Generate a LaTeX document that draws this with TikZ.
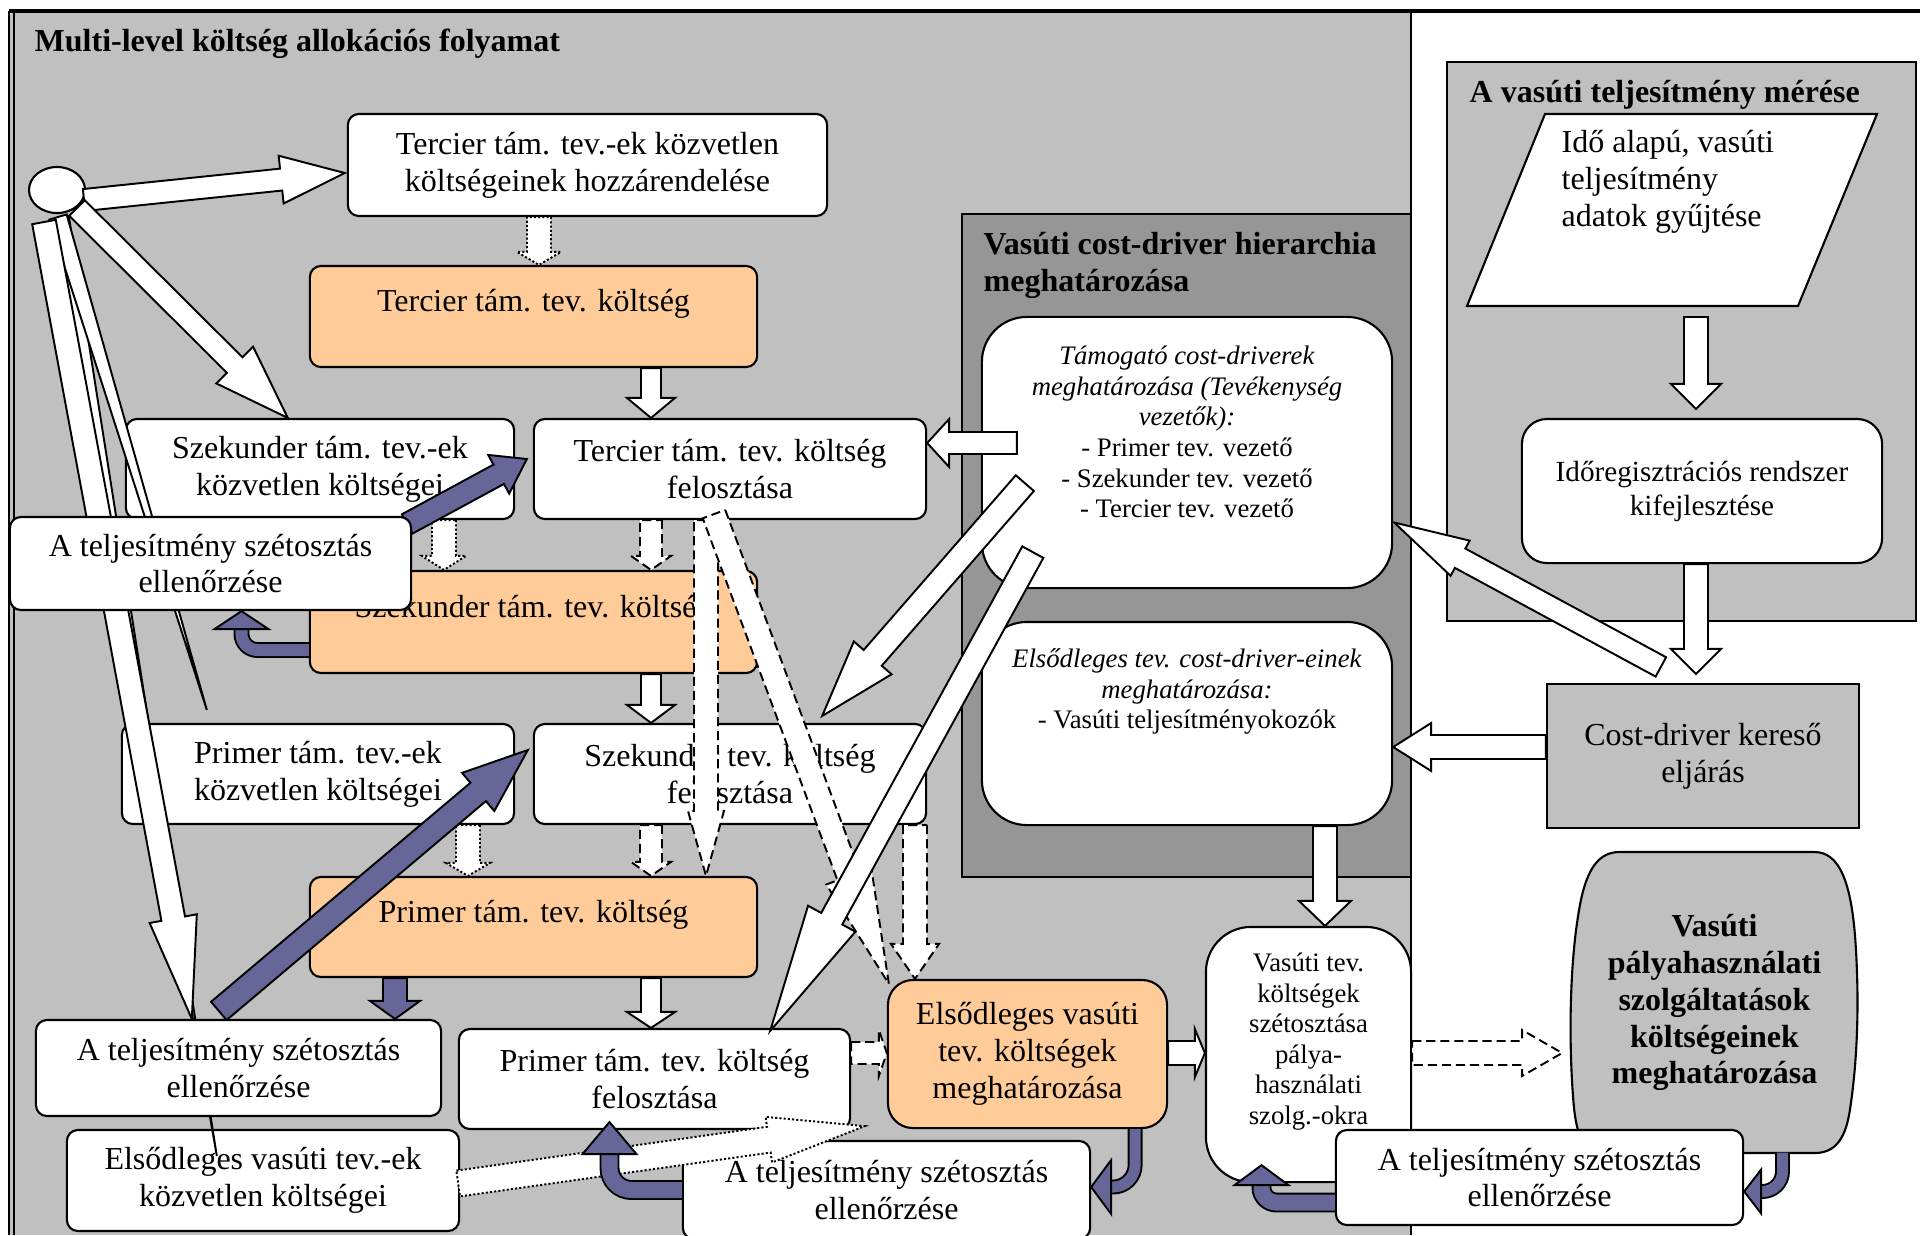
\documentclass[tikz,border=0pt]{standalone}
\usepackage{fontspec}
\setmainfont{Liberation Serif}
\usetikzlibrary{calc,shapes.geometric}
\definecolor{panelgray}{HTML}{C0C0C0}
\definecolor{hierarchygray}{HTML}{969696}
\definecolor{costorange}{HTML}{FFCC99}
\definecolor{checkpurple}{HTML}{666699}
\pgfdeclarelayer{bg}
\pgfdeclarelayer{fg}
\pgfsetlayers{bg,main,fg}
\newcommand{\pxu}{0.01cm}
% block arrow: [style]{from}{to}{shaft half width}{head half width}{head length}
\newcommand{\blockarrow}[6][]{%
  \path (#2) coordinate (ba-s) (#3) coordinate (ba-e);
  \path ($(ba-e)!#6*\pxu!(ba-s)$) coordinate (ba-n);
  \draw[#1] ($(ba-s)!#4*\pxu!90:(ba-e)$) -- ($(ba-n)!#4*\pxu!-90:(ba-s)$) -- ($(ba-n)!#5*\pxu!-90:(ba-s)$) -- (ba-e)
    -- ($(ba-n)!#5*\pxu!90:(ba-s)$) -- ($(ba-n)!#4*\pxu!90:(ba-s)$) -- ($(ba-s)!#4*\pxu!-90:(ba-e)$) -- cycle;}
% thin wedge: [style]{from}{to}{half base}
\newcommand{\wedgearrow}[4][]{%
  \path (#2) coordinate (wa-s) (#3) coordinate (wa-e);
  \draw[#1] ($(wa-s)!#4*\pxu!90:(wa-e)$) -- (wa-e) -- ($(wa-s)!#4*\pxu!-90:(wa-e)$) -- cycle;}
% arrow head only: [style]{base}{tip}{half width}
\newcommand{\headtri}[4][]{%
  \path (#2) coordinate (ht-b) (#3) coordinate (ht-t);
  \draw[#1] ($(ht-b)!#4*\pxu!90:(ht-t)$) -- (ht-t) -- ($(ht-b)!#4*\pxu!-90:(ht-t)$) -- cycle;}
\begin{document}
\begin{tikzpicture}[x=0.01cm, y=-0.01cm, font=\fontsize{9.1pt}{10.5pt}\selectfont,
  box/.style={draw, line width=0.6pt, fill=white, rounded corners=0.11cm, align=center, inner sep=0pt},
  costbox/.style={box, fill=costorange},
  bigbox/.style={box, rounded corners=0.45cm, font=\fontsize{7.6pt}{8.7pt}\selectfont},
  titletext/.style={inner sep=0pt, font=\fontsize{9.1pt}{10.5pt}\selectfont\bfseries},
  whitearrow/.style={draw, line width=0.55pt, fill=white},
  dasharrow/.style={whitearrow, dash pattern=on 2.6pt off 1.4pt},
  dotarrow/.style={whitearrow, dash pattern=on 0.6pt off 0.6pt},
  purparrow/.style={draw, line width=0.55pt, fill=checkpurple},
  purpband/.style={draw=black, line width=0.55pt, double=checkpurple, double distance=#1}]
\useasboundingbox (0,0) rectangle (1920,1235);
\clip (0,0) rectangle (1920,1235);

% panels
\begin{pgfonlayer}{bg}
\fill[panelgray] (10,10) rectangle (1411,1235);
\draw[line width=0.6pt] (1411,11) -- (1411,1235);
\draw[line width=0.5pt] (9,11) -- (9,1235) (14,11) -- (14,1235);
\draw[line width=1.3pt] (9,11) -- (1920,11);
\draw[line width=0.6pt, fill=hierarchygray] (962,214) rectangle (1411,877);
\draw[line width=0.6pt, fill=panelgray] (1447,62) rectangle (1916,621);
\end{pgfonlayer}

\node[titletext, anchor=base west] (title) at (34,51) {Multi-level költség allokációs folyamat};
\node[titletext, anchor=north west, align=left] (cdhtitle) at (983,232) {Vasúti cost-driver hierarchia\\meghatározása};
\node[titletext, anchor=base west] (vtmtitle) at (1469,102) {A vasúti teljesítmény mérése};

% boxes
\node[shape=ellipse, draw, line width=0.6pt, fill=white, minimum width=0.56cm, minimum height=0.46cm] (E) at (57,190) {};
\node[box, minimum width=4.79cm, minimum height=1.02cm] (T1) at (587.5,165) {Tercier tám. tev.-ek közvetlen\\költségeinek hozzárendelése};
\node[costbox, minimum width=4.47cm, minimum height=1.01cm] (T2) at (533.5,316.5) {Tercier tám. tev. költség\\[-1.5pt]~};
\node[box, minimum width=3.88cm, minimum height=1.00cm] (SzK) at (320,469) {Szekunder tám. tev.-ek\\közvetlen költségei};
\node[box, minimum width=3.92cm, minimum height=1.00cm] (TF) at (730,469) {Tercier tám. tev. költség\\felosztása};
\node[costbox, minimum width=4.47cm, minimum height=1.02cm] (SzC) at (533.5,622) {Szekunder tám. tev. költség\\[-1.5pt]~};
\node[box, minimum width=3.92cm, minimum height=1.00cm] (PK) at (318,774) {Primer tám. tev.-ek\\közvetlen költségei};
\node[box, minimum width=3.92cm, minimum height=1.00cm] (SzF) at (730,774) {Szekunder tev. költség\\felosztása};
\node[costbox, minimum width=4.47cm, minimum height=1.00cm] (PC) at (533.5,927) {Primer tám. tev. költség\\[-1.5pt]~};
\node[box, minimum width=3.91cm, minimum height=1.00cm] (PF) at (654.5,1079) {Primer tám. tev. költség\\felosztása};
\node[box, minimum width=3.92cm, minimum height=1.01cm] (EK) at (263,1180.5) {Elsődleges vasúti tev.-ek\\közvetlen költségei};
\node[costbox, rounded corners=0.25cm, minimum width=2.79cm, minimum height=1.48cm] (EC) at (1027.5,1054) {Elsődleges vasúti\\tev. költségek\\meghatározása};
\node[box, minimum width=4.07cm, minimum height=0.98cm] (ACK3) at (886.5,1190) {A teljesítmény szétosztás\\ellenőrzése};
\node[bigbox, minimum width=2.05cm, minimum height=2.55cm] (VT) at (1308.5,1054.5) {Vasúti tev.\\költségek\\szétosztása\\pálya-\\használati\\szolg.-okra\\[0.3pt]~};
\node[box, minimum width=4.07cm, minimum height=0.95cm] (ACK4) at (1539.5,1177.5) {A teljesítmény szétosztás\\ellenőrzése};
\node[bigbox, minimum width=4.10cm, minimum height=2.71cm] (TCD) at (1187,452.5) {\textit{Támogató cost-driverek}\\\textit{meghatározása (Tevékenység}\\\textit{vezetők):}\\- Primer tev. vezető\\- Szekunder tev. vezető\\- Tercier tev. vezető\\[3pt]~};
\node[bigbox, minimum width=4.10cm, minimum height=2.03cm] (ECD) at (1187,723.5) {\textit{Elsődleges tev. cost-driver-einek}\\\textit{meghatározása:}\\- Vasúti teljesítményokozók\\[11pt]~};
\node[box, rounded corners=0.25cm, minimum width=3.60cm, minimum height=1.44cm, font=\fontsize{8.3pt}{9.7pt}\selectfont] (IR) at (1702,491) {Időregisztrációs rendszer\\kifejlesztése};
\node[box, rounded corners=0pt, fill=panelgray, minimum width=3.12cm, minimum height=1.44cm] (CD) at (1703,756) {Cost-driver kereső\\eljárás};
\draw[line width=0.6pt, fill=white] (1545,114) -- (1877,114) -- (1798,306) -- (1467,306) -- cycle;
\node[anchor=north west, align=left, inner sep=0pt] (PG) at (1561,130) {Idő alapú, vasúti\\teljesítmény\\adatok gyűjtése};
\coordinate (PGs) at (1696,317);
\node[align=center, inner sep=0pt, font=\fontsize{9.1pt}{10.5pt}\selectfont\bfseries] (VP) at (1714.5,1002.5) {Vasúti\\pályahasználati\\szolgáltatások\\költségeinek\\meghatározása};
\begin{pgfonlayer}{bg}
\begin{scope}[shift={(VP.center)}]
\draw[line width=0.6pt, fill=panelgray] (-95,-150.5) -- (100,-150.5) .. controls (125,-150.5) and (137,-120) .. (141,-60)
  .. controls (145,0) and (143,60) .. (135,110) .. controls (130,140) and (118,150.5) .. (100,150.5) -- (-115,150.5)
  .. controls (-130,150.5) and (-138,135) .. (-141,100) .. controls (-146,40) and (-145,-40) .. (-135,-95)
  .. controls (-128,-135) and (-115,-150.5) .. (-95,-150.5) -- cycle;
\end{scope}
\end{pgfonlayer}
\begin{pgfonlayer}{fg}
\node[box, minimum width=4.01cm, minimum height=0.93cm] (ACK1) at (210.5,563.5) {A teljesítmény szétosztás\\ellenőrzése};
\node[box, minimum width=4.05cm, minimum height=0.96cm] (ACK2) at (238.5,1068) {A teljesítmény szétosztás\\ellenőrzése};
\end{pgfonlayer}

% columns and rows for the straight arrows
\coordinate (k1) at (539,0);
\coordinate (k2) at (651,0);
\coordinate (k3) at (444,0);
\coordinate (k4) at (468,0);
\coordinate (k5) at (706,0);
\coordinate (k6) at (915,0);
\coordinate (k7) at (395,0);
\coordinate (k8) at (1325,0);
\coordinate (k9) at (1696,0);
\coordinate (r1) at (0,1053);
\coordinate (r2) at (0,443);
\coordinate (r3) at (0,747);

% arrows from the start circle
\wedgearrow[whitearrow]{$(E)+(4,28)$}{$(EK.north west)+(151,27)$}{8}
\wedgearrow[whitearrow]{$(E)+(1,27)$}{$(PK.north west)+(86,-13)$}{9}
\blockarrow[whitearrow]{$(E)+(-13,32)$}{$(ACK2.north west)+(157,0)$}{12}{24}{102}
\blockarrow[whitearrow]{$(E)+(27,10)$}{$(T1.west)+(-2,8)$}{11}{24}{64}
\blockarrow[whitearrow]{$(E)+(20,18)$}{$(SzK.north west)+(163,0)$}{11}{26}{75}

% cost flow
\blockarrow[dotarrow]{T1.south -| k1}{T2.north -| k1}{12}{22}{13}
\blockarrow[whitearrow]{T2.south -| k2}{TF.north -| k2}{10}{24}{20}
\blockarrow[dotarrow]{SzK.south -| k3}{SzC.north -| k3}{12}{22}{14}
\blockarrow[dasharrow]{TF.south -| k2}{SzC.north -| k2}{11}{20}{14}
\blockarrow[whitearrow]{SzC.south -| k2}{SzF.north -| k2}{10}{24}{18}
\blockarrow[dotarrow]{PK.south -| k4}{PC.north -| k4}{12}{22}{13}
\blockarrow[dasharrow]{SzF.south -| k2}{PC.north -| k2}{11}{20}{14}
\blockarrow[whitearrow]{PC.south -| k2}{PF.north -| k2}{10}{24}{16}
\blockarrow[dasharrow]{PF.east |- r1}{EC.west |- r1}{11}{23}{8}
\blockarrow[whitearrow]{EC.east |- r1}{VT.west |- r1}{12}{24}{10}
\blockarrow[dasharrow]{VT.east |- r1}{$(VT.east |- r1)+(150,0)$}{12}{23}{40}
\blockarrow[dasharrow]{TF.south -| k5}{PC.north -| k5}{12}{18}{65}
\blockarrow[dasharrow]{$(TF.south)+(-16,-6)$}{$(EC.north west)+(2,5)$}{12}{24}{115}
\blockarrow[dasharrow]{SzF.south -| k6}{EC.north -| k6}{12}{24}{35}

% cost-driver arrows
\blockarrow[whitearrow]{ECD.south -| k8}{VT.north -| k8}{12}{26}{25}
\blockarrow[whitearrow]{PGs}{$(IR.north -| k9)+(0,-9)$}{12}{25}{25}
\blockarrow[whitearrow]{IR.south -| k9}{$(CD.north -| k9)+(0,-9)$}{12}{25}{25}
\blockarrow[whitearrow]{CD.west |- r3}{ECD.east |- r3}{12}{24}{38}
\blockarrow[whitearrow]{$(CD.north west)+(115,-16)$}{$(TCD.east)+(1,70)$}{11}{20}{75}
\blockarrow[whitearrow]{$(TCD.west |- r2)+(36,0)$}{TF.east |- r2}{11}{24}{22}
\blockarrow[whitearrow]{$(TCD.south west)+(44,-106)$}{$(SzF.north east)+(-105,-7)$}{12}{25}{77}
\blockarrow[whitearrow]{$(TCD.south west)+(52,-37)$}{$(PF.north east)+(-81,3)$}{12}{27}{128}
\blockarrow[dotarrow]{$(EK.east)+(-2,3)$}{$(EC.south west)+(-22,-3)$}{13}{23}{97}

% checks
\blockarrow[purparrow]{$(ACK1.north east)+(-5,8)$}{$(TF.west)+(-6,-10)$}{11}{22}{32}
\blockarrow[purparrow]{$(ACK2.north west)+(184,-8)$}{$(SzF.west)+(-5,-24)$}{12}{25}{65}
\blockarrow[purparrow]{PC.south -| k7}{ACK2.north -| k7}{12}{25}{18}
\draw[purpband=0.12cm, rounded corners=0.16cm] ($(SzC.west)+(0,28)$) -| ($(ACK1.south)+(31,18)$);
\headtri[purparrow]{$(ACK1.south)+(31,18)$}{$(ACK1.south)+(31,0)$}{27}
\draw[purpband=0.11cm, rounded corners=0.22cm] ($(EC.south east)+(-33,0)$) |- ($(ACK3.east)+(20,-3)$);
\headtri[purparrow]{$(ACK3.east)+(20,-3)$}{$(ACK3.east)+(0,-3)$}{27}
\draw[purpband=0.16cm, rounded corners=0.22cm] (ACK3.west) -| ($(PF.south)+(-45,24)$);
\headtri[purparrow]{$(PF.south)+(-45,24)$}{$(PF.south)+(-45,-8)$}{27}
\draw[purpband=0.16cm, rounded corners=0.15cm] ($(ACK4.west)+(0,25)$) -| ($(VT.south)+(-47,2)$);
\headtri[purparrow]{$(VT.south)+(-47,2)$}{$(VT.south)+(-47,-18)$}{27}
\draw[purpband=0.11cm, rounded corners=0.2cm] ($(VP)+(68,150)$) |- ($(ACK4.east)+(17,14)$);
\headtri[purparrow]{$(ACK4.east)+(17,14)$}{$(ACK4.east)+(0,14)$}{22}
\end{tikzpicture}
\end{document}
